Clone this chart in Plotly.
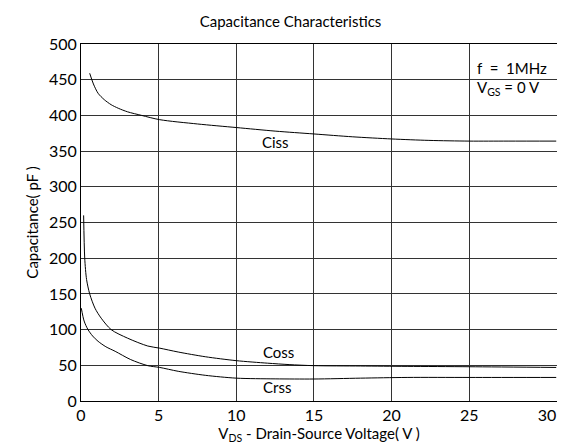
import plotly.graph_objects as go

# Data
ciss_v = [0.56, 0.8, 1.1, 1.5, 1.94, 2.4, 3.0, 3.9, 5.07, 7.5, 10, 12.5, 15, 17.5, 20, 22.4, 25, 27.5, 30.6]
ciss_c = [459, 444, 431, 422, 415, 410, 405, 400, 394, 388, 383, 378, 374, 370, 367, 365, 364, 364, 364]

coss_v = [0.17, 0.24, 0.36, 0.56, 0.9, 1.3, 1.94, 3.0, 4.3, 5.07, 6.26, 8, 10, 12, 13.4, 15, 18, 21, 25, 30.6]
coss_c = [260, 200, 170, 150, 130, 116, 100, 88, 77, 74, 68.6, 62, 56.5, 53, 51, 49.5, 49, 48.5, 48, 47]

crss_v = [0.02, 0.2, 0.45, 0.75, 1.1, 1.6, 2.2, 3.2, 4.3, 5.07, 6.26, 8, 10, 12.5, 15, 18, 21, 25, 30.6]
crss_c = [130, 112, 100, 91, 83.6, 76, 69.6, 58, 49.5, 47, 41.6, 36, 32, 31, 30.8, 32, 33, 33, 33]

x_ticks = [0, 5, 10, 15, 20, 25, 30]
x_grid = [5, 10, 15, 20, 25]
y_ticks = [0, 50, 100, 150, 200, 250, 300, 350, 400, 450, 500]

labels = ["Ciss", "Coss", "Crss"]
label_v = [12.5, 12.7, 12.6]
label_c = [363, 68, 19]

FONT = "Lato"

fig = go.Figure()
for xs, ys in [(ciss_v, ciss_c), (coss_v, coss_c), (crss_v, crss_c)]:
    fig.add_trace(go.Scatter(x=xs, y=ys, mode="lines",
                             line=dict(color="black", width=1, shape="spline", smoothing=0.8),
                             showlegend=False, hoverinfo="skip"))

for t, lx, ly in zip(labels, label_v, label_c):
    fig.add_annotation(x=lx, y=ly, text=t, showarrow=False, font=dict(family=FONT, size=15, color="black"))

fig.add_annotation(x=25.35, y=466, text="f  =  1MHz", showarrow=False, xanchor="left",
                   font=dict(family=FONT, size=15, color="black"))
fig.add_annotation(x=25.35, y=438, text="V<sub>GS</sub> = 0 V", showarrow=False, xanchor="left",
                   font=dict(family=FONT, size=15, color="black"))

fig.update_layout(
    width=565, height=443,
    margin=dict(l=73, r=16, t=36, b=50),
    paper_bgcolor="white", plot_bgcolor="white",
    title=dict(text="Capacitance Characteristics", x=0.5, xanchor="center", y=1 - 14 / 443, yanchor="middle",
               yref="container", font=dict(family=FONT, size=15, color="black")),
    font=dict(family=FONT, color="black"),
)
fig.update_xaxes(
    range=[0, 30.65], tickvals=x_ticks, showgrid=False, zeroline=False,
    showline=True, linecolor="black", linewidth=1, mirror=True, ticks="",
    tickfont=dict(family=FONT, size=16, color="black"),
    minor=dict(tickvals=x_grid, showgrid=True, gridcolor="#333333", gridwidth=1, ticks=""),
    title=dict(text="V<sub>DS</sub> - Drain-Source Voltage( V )", font=dict(family=FONT, size=15, color="black"),
               standoff=2),
)
fig.update_yaxes(
    range=[0, 500], tickvals=y_ticks, showgrid=True, gridcolor="#333333", gridwidth=1, zeroline=False,
    showline=True, linecolor="black", linewidth=1, mirror=True, ticks="",
    tickfont=dict(family=FONT, size=16, color="black"),
    title=dict(text="Capacitance( pF )", font=dict(family=FONT, size=15, color="black"), standoff=6),
)

fig.write_html("out.html")
